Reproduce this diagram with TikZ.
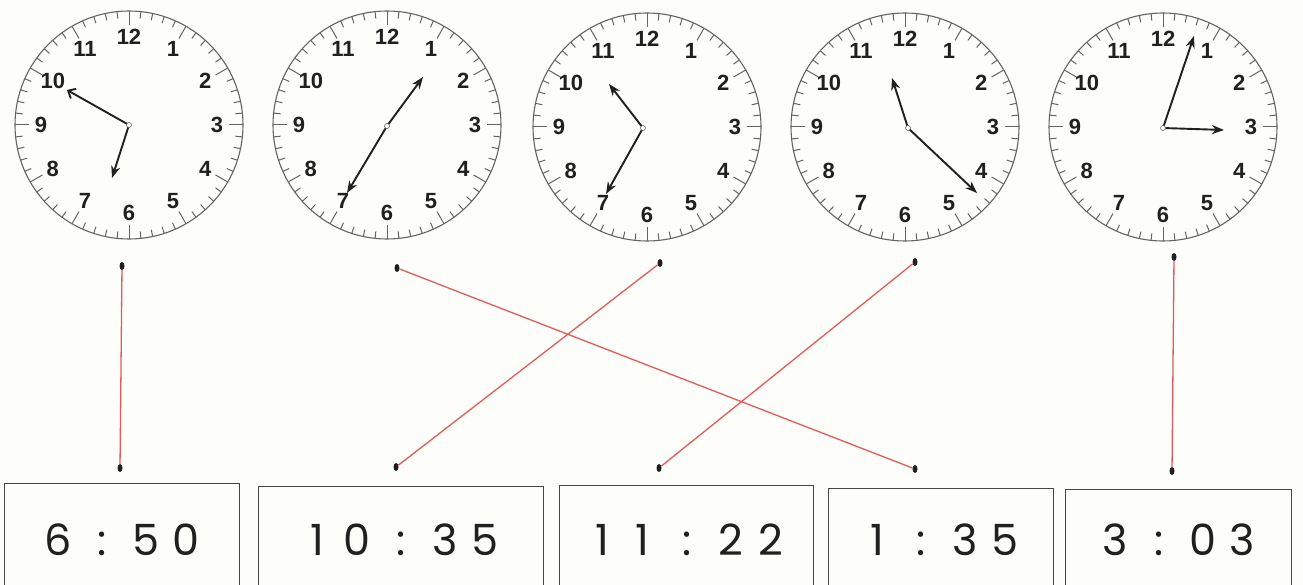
\documentclass[tikz,border=0pt]{standalone}
\usepackage{fontspec}
\setmainfont{Liberation Sans}
\newfontfamily\numfont{Liberation Sans}
\newfontfamily\boxfont{Poppins}
\usetikzlibrary{arrows.meta,shapes.geometric}
\definecolor{redln}{RGB}{226,90,94}
\definecolor{paper}{RGB}{253,253,249}
\definecolor{rimc}{RGB}{100,100,100}
\definecolor{ink}{RGB}{32,32,32}
\definecolor{boxc}{RGB}{70,70,70}
\newcommand\tch[2][40pt]{\makebox[#1]{#2}}
\begin{document}
\begin{tikzpicture}[x=1pt,y=-1pt,
  rim/.style={draw=rimc, line width=1.1pt},
  tickmark/.style={draw=rimc, line width=1pt},
  num/.style={font=\numfont\bfseries\fontsize{22}{22}\selectfont, text=ink, inner sep=0pt},
  hand/.style={draw=ink, line width=1.9pt, -{Stealth[length=12pt,width=9pt]}},
  openhand/.style={draw=ink, line width=1.9pt, -{Straight Barb[length=6pt,width=11pt]}},
  pivot/.style={circle, draw=rimc, fill=white, line width=0.6pt, inner sep=0pt, minimum size=5pt},
  dotn/.style={ellipse, fill=ink, inner sep=0pt, minimum width=5pt, minimum height=8pt},
  link/.style={draw=redln, line width=1.3pt},
  timebox/.style={draw=boxc, line width=1.3pt, anchor=north west, inner sep=0pt,
    font=\boxfont\fontsize{43}{43}\selectfont, text=ink}
]
\useasboundingbox (0,0) rectangle (1303,585);
\fill[paper] (0,0) rectangle (1303,585);
\clip (0,0) rectangle (1303,585);

% clock faces
\foreach \cx/\cy/\k in {129/125/1, 387/125/2, 647/127/3, 905/127/4, 1163/127/5} {
  \draw[rim] (\cx,\cy) circle[radius=114];
  \foreach \m in {0,...,59} {
    \pgfmathsetmacro\L{ifthenelse(mod(\m,5)==0,14,7)}
    \draw[tickmark] ({\cx+114*sin(6*\m)},{\cy-114*cos(6*\m)}) --
                    ({\cx+(114-\L)*sin(6*\m)},{\cy-(114-\L)*cos(6*\m)});
  }
  \foreach \h in {1,...,12}
    \node[num] (n\k-\h) at ({\cx+88*sin(30*\h)},{\cy-88*cos(30*\h)}) {\h};
}

% hands
\coordinate (p1) at (129,125);  \coordinate (m1) at (67,90);   \coordinate (h1) at (112,178);
\coordinate (p2) at (387,126);  \coordinate (h2) at (423,77);  \coordinate (m2) at (347,193);
\coordinate (p3) at (643,128);  \coordinate (h3) at (609,84);  \coordinate (m3) at (606,194);
\coordinate (p4) at (908,128);  \coordinate (h4) at (892,78);  \coordinate (m4) at (977,193);
\coordinate (p5) at (1163,128); \coordinate (m5) at (1194,36); \coordinate (h5) at (1224,130);

\draw[openhand] (p1) -- (m1);
\draw[hand] (p1) -- (h1);
\draw[hand] (p2) -- (h2);
\draw[hand] (p2) -- (m2);
\draw[hand] (p3) -- (h3);
\draw[hand] (p3) -- (m3);
\draw[hand] (p4) -- (h4);
\draw[hand] (p4) -- (m4);
\draw[hand] (p5) -- (m5);
\draw[hand] (p5) -- (h5);
\foreach \k in {1,...,5} \node[pivot] (pv\k) at (p\k) {};

% answer boxes
\node[timebox, minimum width=235pt, minimum height=112pt] (box1) at (4,483)
  {\tch6\tch[48pt]:\tch5\tch0};
\node[timebox, minimum width=285pt, minimum height=106pt] (box2) at (258,486)
  {\tch1\tch0\tch[48pt]:\tch3\tch5};
\node[timebox, minimum width=254pt, minimum height=108pt] (box3) at (559,485)
  {\tch1\tch1\tch[48pt]:\tch2\tch2};
\node[timebox, minimum width=225pt, minimum height=102pt] (box4) at (828,488)
  {\tch1\tch[48pt]:\tch3\tch5};
\node[timebox, minimum width=226pt, minimum height=100pt] (box5) at (1065,489)
  {\tch3\tch[48pt]:\tch0\tch3};

% matching lines
\node[dotn] (t1) at (122,266) {};
\node[dotn] (t2) at (397,268) {};
\node[dotn] (t3) at (660,263) {};
\node[dotn] (t4) at (915,262) {};
\node[dotn] (t5) at (1174,257) {};
\node[dotn] (b1) at (120,468) {};
\node[dotn] (b2) at (396,467) {};
\node[dotn] (b3) at (659,468) {};
\node[dotn] (b4) at (915,469) {};
\node[dotn] (b5) at (1172,471) {};
\draw[link] (t1) -- (b1);
\draw[link] (t2) -- (b4);
\draw[link] (t3) -- (b2);
\draw[link] (t4) -- (b3);
\draw[link] (t5) -- (b5);
\end{tikzpicture}
\end{document}
